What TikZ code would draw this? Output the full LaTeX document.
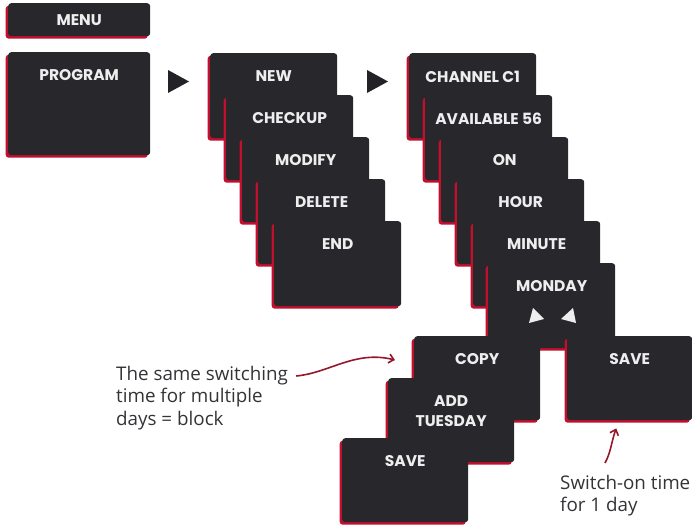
\documentclass[tikz,border=0pt]{standalone}
\usepackage{fontspec}
\setmainfont{Open Sans}
\newfontfamily\panelfont{Poppins}
\usetikzlibrary{calc}
\usetikzlibrary{shadows,arrows.meta}

\definecolor{panelgray}{RGB}{40,39,44}
\definecolor{panelred}{RGB}{192,16,46}
\definecolor{notered}{RGB}{150,22,46}
\definecolor{notegray}{RGB}{52,52,56}
\definecolor{labelwhite}{RGB}{238,238,238}
\definecolor{pointerblack}{RGB}{35,34,38}

\tikzset{
  panel/.style={fill=panelgray, rounded corners=3pt, anchor=north west, inner sep=0pt,
    minimum width=127pt, minimum height=85pt,
    drop shadow={shadow xshift=-2.5pt, shadow yshift=-2.5pt, fill=panelred, opacity=1}},
  panellabel/.style={anchor=north, inner sep=0pt, yshift=-17.5pt, text=labelwhite,
    font=\panelfont\bfseries\fontsize{15.5}{20}\selectfont, align=center},
  note/.style={anchor=north west, inner sep=0pt, align=left, text=notegray,
    font=\fontsize{18.8}{22.5}\selectfont},
  notearrow/.style={draw=notered, line width=1.6pt, -{Straight Barb[length=5pt,width=9pt]}}
}

\begin{document}
\begin{tikzpicture}[x=1pt, y=-1pt]
    \useasboundingbox (0,0) rectangle (692,524);

    % menu
    \node [panel, minimum width=142pt, minimum height=33pt, text=labelwhite,
      font=\panelfont\bfseries\fontsize{15.5}{20}\selectfont] (menu) at (8,3) {MENU};
    \node [panel, minimum width=142pt, minimum height=103pt,
      label={[panellabel]north:PROGRAM}] (program) at (8,52) {};

    % first stack
    \node [panel, label={[panellabel]north:NEW}] (new) at (210,53) {};
    \node [panel, label={[panellabel]north:CHECKUP}] (checkup) at (226,95) {};
    \node [panel, label={[panellabel]north:MODIFY}] (modify) at (242,137) {};
    \node [panel, label={[panellabel]north:DELETE}] (delete) at (258,179) {};
    \node [panel, label={[panellabel]north:END}] (end) at (274,221) {};

    % second stack
    \node [panel, label={[panellabel]north:CHANNEL C1}] (channel) at (409,53) {};
    \node [panel, label={[panellabel]north:AVAILABLE 56}] (available) at (425,95) {};
    \node [panel, label={[panellabel]north:ON}] (on) at (441,137) {};
    \node [panel, label={[panellabel]north:HOUR}] (hour) at (457,179) {};
    \node [panel, label={[panellabel]north:MINUTE}] (minute) at (473,221) {};
    \node [panel, label={[panellabel]north:MONDAY}] (monday) at (488,263) {};

    % day choices
    \node [panel, minimum width=126pt, minimum height=84pt,
      label={[panellabel]north:COPY}] (copy) at (414,336) {};
    \node [panel, minimum width=126pt, minimum height=84pt,
      label={[panellabel]north:ADD\\TUESDAY}] (addtuesday) at (388,378) {};
    \node [panel, minimum width=126pt, minimum height=84pt,
      label={[panellabel]north:SAVE}] (savea) at (342,438) {};
    \node [panel, minimum width=125pt, minimum height=84pt,
      label={[panellabel]north:SAVE}] (saveb) at (567,336) {};

    % pointers
    \fill [pointerblack] (168,70) -- (168,93) -- (189,81.5) -- cycle;
    \fill [pointerblack] (367,70) -- (367,93) -- (388,81.5) -- cycle;
    \fill [labelwhite] (533,308) -- (529,323) -- (544,319) -- cycle;
    \fill [labelwhite] (573,308) -- (576,323) -- (561,319) -- cycle;

    % notes
    \node [note] (note1) at (116,366) {The same switching\\time for multiple\\days = block};
    \node [note] (note2) at (560,475) {Switch-on time\\for 1 day};

    \draw [notearrow] ($(note1.north east)+(8,10)$) .. controls +(33,-3) and +(-40,-10) .. ($(copy.north west)+(-19,24)$);
    \draw [notearrow] ($(note2.north west)+(45,-12)$) .. controls +(6,-11) and +(-5,14) .. ($(saveb.south)+(-13.5,8)$);
  \end{tikzpicture}
\end{document}
